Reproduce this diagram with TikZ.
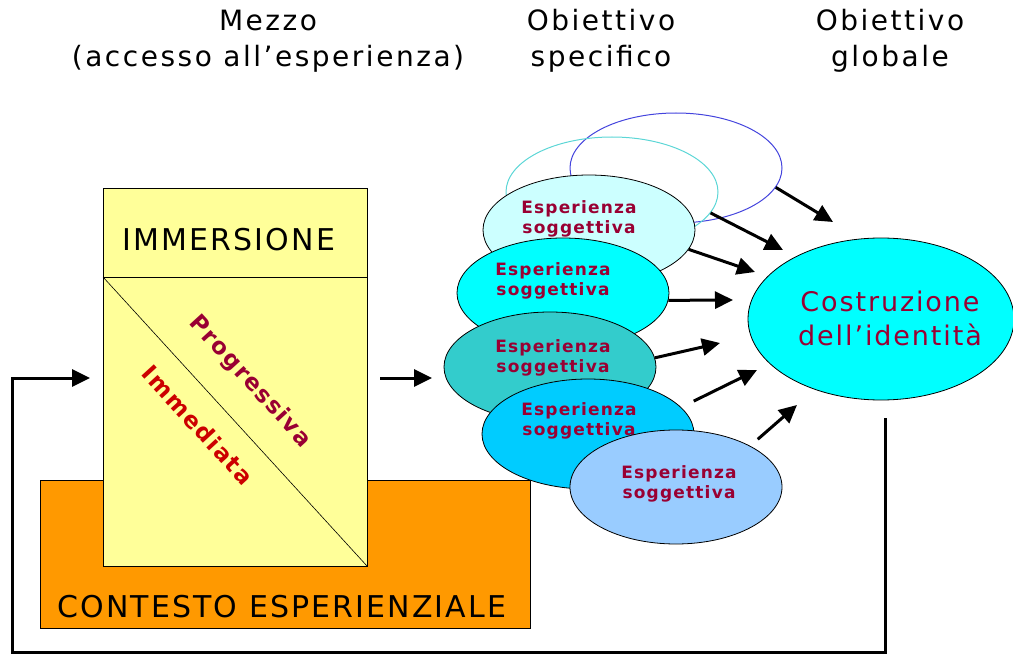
\documentclass[tikz,border=0pt]{standalone}
\usepackage{fontspec}
\setmainfont{DejaVu Sans}
\newfontfamily\largo[LetterSpace=9]{DejaVu Sans}
\newfontfamily\medio[LetterSpace=7]{DejaVu Sans}
\usetikzlibrary{arrows.meta,shapes.geometric}
\definecolor{arancio}{HTML}{FF9900}
\definecolor{giallo}{HTML}{FFFF99}
\definecolor{bordeaux}{HTML}{990033}
\definecolor{rosso}{HTML}{CC0000}
\definecolor{celeste}{HTML}{CCFFFF}
\definecolor{ciano}{HTML}{00FFFF}
\definecolor{verdeacqua}{HTML}{33CCCC}
\definecolor{azzurro}{HTML}{00CCFF}
\definecolor{cielo}{HTML}{99CCFF}
\definecolor{blu}{HTML}{4444DD}
\begin{document}
\begin{tikzpicture}[x=1pt,y=-1pt,
    exp/.style={ellipse,draw=black,line width=0.8pt,minimum width=212pt,minimum height=110pt,inner sep=0pt},
    exptext/.style={text=bordeaux,font=\medio\fontsize{17}{20}\selectfont\bfseries,align=center},
    ghost/.style={ellipse,draw,line width=1pt,minimum width=212pt,minimum height=110pt},
    flow/.style={line width=3pt,-{Triangle[length=18pt,width=17pt]}},
    title/.style={font=\largo\fontsize{28}{36}\selectfont,align=center}]
  \useasboundingbox (0,0) rectangle (1013,655);
  % titoli
  \node[title] (mezzo) at (268,41) {Mezzo\\(accesso all’esperienza)};
  \node[title] (spec) at (601,41) {Obiettivo\\specifico};
  \node[title] (glob) at (890,41) {Obiettivo\\globale};
  % contesto e immersione
  \draw[fill=arancio,line width=0.8pt] (40,480) rectangle (530,628);
  \node[font=\medio\fontsize{30}{30}\selectfont,anchor=base west] (contesto) at (54,617) {CONTESTO ESPERIENZIALE};
  \draw[fill=giallo,line width=0.8pt] (103,188) rectangle (367,566);
  \draw[line width=0.8pt] (103,277) -- (367,277);
  \draw[line width=0.6pt] (103,277) -- (367,566);
  \node[font=\medio\fontsize{30}{30}\selectfont] (imm) at (229,240) {IMMERSIONE};
  \node[rotate=-47.6,text=bordeaux,font=\medio\fontsize{23}{24}\selectfont\bfseries] (prog) at (250,382) {Progressiva};
  \node[rotate=-47.6,text=rosso,font=\medio\fontsize{23}{24}\selectfont\bfseries] (immed) at (198,425) {Immediata};
  % esperienze
  \node[ghost,draw=blu] (o1) at (676,168) {};
  \node[ghost,draw=verdeacqua!80] (o2) at (612,192) {};
  \node[exp,fill=celeste] (e1) at (589,230) {};
  \node[exptext] (t1) at (579,219) {Esperienza\\soggettiva};
  \node[exp,fill=ciano] (e2) at (563,293) {};
  \node[exptext] (t2) at (553,281) {Esperienza\\soggettiva};
  \node[exp,fill=verdeacqua] (e3) at (550,367) {};
  \node[exptext] (t3) at (553,358) {Esperienza\\soggettiva};
  \node[exp,fill=azzurro] (e4) at (588,434) {};
  \node[exptext] (t4) at (579,421) {Esperienza\\soggettiva};
  \node[exp,fill=cielo,minimum height=114pt] (e5) at (676,487) {};
  \node[exptext] (t5) at (679,484) {Esperienza\\soggettiva};
  \node[exp,fill=ciano,minimum width=266pt,minimum height=162pt] (goal) at (881,319) {};
  \node[text=bordeaux,font=\medio\fontsize{27}{34}\selectfont,align=center] (tg) at (890,318) {Costruzione\\dell’identità};
  % frecce
  \coordinate (a1) at (833,222);
  \coordinate (a2) at (783,250);
  \coordinate (a3) at (755,272);
  \coordinate (a4) at (733,300);
  \coordinate (a5) at (720,343);
  \coordinate (a6) at (757,370);
  \coordinate (a7) at (797,405);
  \draw[flow] (o1.-11) to (a1);
  \draw[flow] (o2.-12) to (a2);
  \draw[flow] (e1.-11) to (a3);
  \draw[flow] (e2.-4) to (a4);
  \draw[flow] (e3.5) to (a5);
  \draw[flow,shorten <=14pt] (e4.16) to (a6);
  \draw[flow,shorten <=10pt] (e5.29) to (a7);
  \coordinate (in1) at (380,378);
  \coordinate (in2) at (432,378);
  \draw[flow] (in1) to (in2);
  \coordinate (fb) at (12,652);
  \coordinate (ingresso) at (90,378);
  \draw[flow] ([xshift=4pt,yshift=-18pt]goal.south) |- (fb) |- (ingresso);
\end{tikzpicture}
\end{document}
